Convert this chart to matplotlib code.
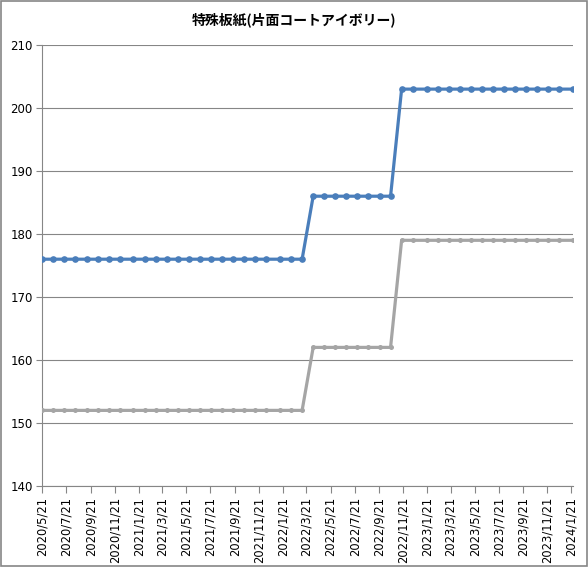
import matplotlib
matplotlib.use("Agg")
import matplotlib.pyplot as plt
import matplotlib.dates as mdates
from matplotlib.patches import Rectangle
import pandas as pd

# observation dates (roughly every 4 weeks)
dates = [
    "2020-05-21", "2020-06-18", "2020-07-16", "2020-08-13", "2020-09-10", "2020-10-08",
    "2020-11-05", "2020-12-03", "2021-01-07", "2021-02-04", "2021-03-04", "2021-04-01",
    "2021-04-29", "2021-05-27", "2021-06-24", "2021-07-22", "2021-08-19", "2021-09-16",
    "2021-10-14", "2021-11-11", "2021-12-09", "2022-01-13", "2022-02-10", "2022-03-10",
    "2022-04-07", "2022-05-05", "2022-06-02", "2022-06-30", "2022-07-28", "2022-08-25",
    "2022-09-22", "2022-10-20", "2022-11-17", "2022-12-15", "2023-01-19", "2023-02-16",
    "2023-03-16", "2023-04-13", "2023-05-11", "2023-06-08", "2023-07-06", "2023-08-03",
    "2023-08-31", "2023-09-28", "2023-10-26", "2023-11-23", "2023-12-21", "2024-01-25",
]
blue_values = [176] * 24 + [186] * 8 + [203] * 16
gray_values = [152] * 24 + [162] * 8 + [179] * 16

tick_dates = [
    "2020-05-21", "2020-07-21", "2020-09-21", "2020-11-21", "2021-01-21", "2021-03-21",
    "2021-05-21", "2021-07-21", "2021-09-21", "2021-11-21", "2022-01-21", "2022-03-21",
    "2022-05-21", "2022-07-21", "2022-09-21", "2022-11-21", "2023-01-21", "2023-03-21",
    "2023-05-21", "2023-07-21", "2023-09-21", "2023-11-21", "2024-01-21",
]
tick_labels = [f"{d.year}/{d.month}/{d.day}" for d in pd.to_datetime(tick_dates)]

x = pd.to_datetime(dates)

fig = plt.figure(figsize=(5.88, 5.67), dpi=100)
ax = fig.add_axes([0.0719, 0.1429, 0.9026, 0.7777])

ax.plot(x, gray_values, color="#A5A5A5", lw=2.3, marker="o", ms=3.6,
        markeredgewidth=0, zorder=3)
ax.plot(x, blue_values, color="#4A7EBB", lw=2.3, marker="o", ms=4.8,
        markeredgewidth=0, zorder=4)

ax.set_ylim(140, 210)
ax.set_yticks(range(140, 211, 10))
ax.set_xlim(x[0], x[-1])
ax.set_xticks(pd.to_datetime(tick_dates))
ax.set_xticklabels(tick_labels, rotation=90, fontsize=8.3, family="DejaVu Sans")
ax.tick_params(axis="y", labelsize=8.5, length=4, color="#868686", pad=3)
ax.tick_params(axis="x", length=5, color="#868686", pad=3)

ax.grid(axis="y", color="#868686", lw=0.8)
ax.set_axisbelow(True)
for side in ["top", "right"]:
    ax.spines[side].set_visible(False)
for side in ["left", "bottom"]:
    ax.spines[side].set_color("#868686")
    ax.spines[side].set_linewidth(0.8)

fig.text(0.5, 0.965, "特殊板紙(片面コートアイボリー)", ha="center", va="center",
         fontsize=10, fontweight="bold", family=["Noto Sans CJK JP", "DejaVu Sans"])

fig.patches.append(Rectangle((0.001, 0.001), 0.997, 0.997, transform=fig.transFigure,
                             fill=False, edgecolor="#868686", lw=1.2))

fig.savefig("out.png", dpi=100)
